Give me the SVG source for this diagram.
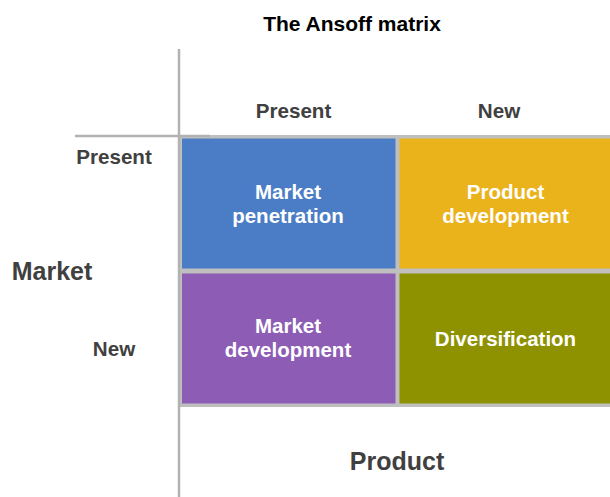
<svg xmlns="http://www.w3.org/2000/svg" width="610" height="497" viewBox="0 0 610 497">
  <style>
    text { font-family: "Liberation Sans", Arial, sans-serif; font-weight: bold; text-anchor: middle; }
    .title { font-size: 21px; fill: #000000; }
    .axis-label { font-size: 25px; fill: #404040; }
    .tick { font-size: 20.6px; fill: #404040; }
    .cell-text { font-size: 20.5px; fill: #ffffff; }
    .axis { stroke: #b2b2b2; stroke-width: 2.5; fill: none; }
  </style>
  <rect width="610" height="497" fill="#ffffff"/>

  <text class="title" x="352" y="31">The Ansoff matrix</text>

  <!-- grid frame -->
  <rect x="180" y="135" width="432" height="272" fill="#bfbfbf"/>

  <g id="market-penetration">
    <rect x="182" y="138.5" width="213.5" height="130" fill="#4a7dc6"/>
    <text class="cell-text" x="288" y="198.5">Market</text>
    <text class="cell-text" x="288" y="222.5">penetration</text>
  </g>
  <g id="product-development">
    <rect x="399.5" y="138.5" width="212" height="130" fill="#eab21b"/>
    <text class="cell-text" x="505.5" y="199">Product</text>
    <text class="cell-text" x="505.5" y="222.5">development</text>
  </g>
  <g id="market-development">
    <rect x="182" y="273.5" width="213.5" height="130" fill="#8d5db6"/>
    <text class="cell-text" x="288" y="332.5">Market</text>
    <text class="cell-text" x="288" y="356.5">development</text>
  </g>
  <g id="diversification">
    <rect x="399.5" y="273.5" width="212" height="130" fill="#8e9200"/>
    <text class="cell-text" x="505.5" y="345.5">Diversification</text>
  </g>

  <!-- axes -->
  <g id="axes">
    <line class="axis" x1="179" y1="49" x2="179" y2="497"/>
    <line class="axis" x1="75" y1="136" x2="210" y2="136"/>
  </g>

  <g id="labels">
    <text class="tick" x="293.5" y="117.5">Present</text>
    <text class="tick" x="499" y="117.5">New</text>
    <text class="tick" x="114" y="163.5">Present</text>
    <text class="tick" x="114" y="356">New</text>
    <text class="axis-label" x="52" y="279.5">Market</text>
    <text class="axis-label" x="397" y="470">Product</text>
  </g>
</svg>
